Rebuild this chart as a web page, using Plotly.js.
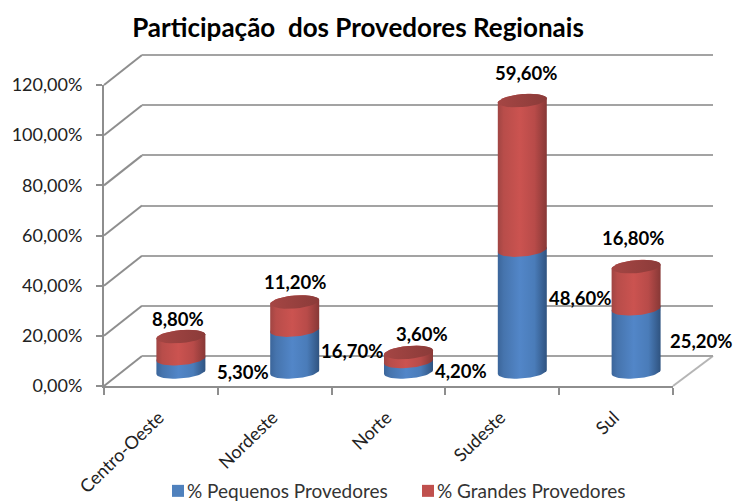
<!DOCTYPE html>
<html><head><meta charset="utf-8">
<script src="https://cdn.plot.ly/plotly-3.0.1.min.js"></script>
<style>html,body{margin:0;padding:0;background:#fff;overflow:hidden}#c{width:733px;height:501px}</style>
</head><body><div id="c"></div>
<script>
const categories = ["Centro-Oeste","Nordeste","Norte","Sudeste","Sul"];
const pequenos = [5.3,16.7,4.2,48.6,25.2];
const grandes = [8.8,11.2,3.6,59.6,16.8];
// label nudges in pixels from each stack segment's top (style only)
const labelShiftPequenos = [[62,-13],[57,-21],[52,-10],[58,-48],[65,-32]];
const labelShiftGrandes = [[-3,18],[0,20],[13,18],[4,28],[-3,29]];

const W=733,H=501;
const dx=v=>v/W, dy=v=>1-v/H;
const catPx=113.8, unitPx=2.508, rx=24.5/catPx, ry=6.5/unitPx, tilt=2/unitPx;
const fmt=v=>v.toFixed(2).replace('.',',')+'%';
const blueScale=[[0,'#3b659a'],[0.12,'#4674ad'],[0.45,'#5286c8'],[0.75,'#4a7cb9'],[1,'#2f5380']];
const redScale=[[0,'#a04543'],[0.12,'#b84d4a'],[0.45,'#cb5350'],[0.75,'#b84b49'],[1,'#873836']];
const capScale=[[0,'#a54644'],[1,'#8b3b39']];
const positions=categories.map((c,i)=>i);

function arc(cx,cy,from,to){
  const xs=[],ys=[];
  for(let i=0;i<=28;i++){const t=from+(to-from)*i/28;
    xs.push(cx+rx*Math.cos(t)); ys.push(cy+ry*Math.sin(t)+tilt*Math.cos(t));}
  return [xs,ys];
}
function body(i,lo,hi,scale){
  const a=arc(i,lo,Math.PI,2*Math.PI), b=arc(i,hi,0,Math.PI);
  return {type:'scatter',mode:'lines',x:a[0].concat(b[0]),y:a[1].concat(b[1]),xaxis:'x3',yaxis:'y3',
    fill:'toself',line:{width:0},fillgradient:{type:'horizontal',colorscale:scale},
    showlegend:false,hoverinfo:'skip',cliponaxis:false};
}
function cap(i,v){
  const a=arc(i,v,0,2*Math.PI);
  return {type:'scatter',mode:'lines',x:a[0],y:a[1],xaxis:'x3',yaxis:'y3',
    fill:'toself',line:{width:0},fillgradient:{type:'horizontal',colorscale:capScale},
    showlegend:false,hoverinfo:'skip',cliponaxis:false};
}
const traces=[
 {type:'bar',name:'% Pequenos Provedores',x:positions,y:pequenos,width:0.4,marker:{color:'#4f81bd'},xaxis:'x3',yaxis:'y3',hoverinfo:'skip'},
 {type:'bar',name:'% Grandes Provedores',x:positions,y:grandes,width:0.4,marker:{color:'#c0504d'},xaxis:'x3',yaxis:'y3',hoverinfo:'skip'},
 {type:'scatter',mode:'none',x:categories,y:pequenos,xaxis:'x',yaxis:'y',showlegend:false,hoverinfo:'skip'},
 {type:'scatter',mode:'none',x:positions,y:pequenos,xaxis:'x2',yaxis:'y2',showlegend:false,hoverinfo:'skip'}
];
categories.forEach((c,i)=>{
  traces.push(body(i,0,pequenos[i],blueScale));
  traces.push(body(i,pequenos[i],pequenos[i]+grandes[i],redScale));
  traces.push(cap(i,pequenos[i]+grandes[i]));
});
const gridCol='#a3a3a3', axisCol='#8e8e8e';
const wallTicks=[0,20,40,60,80,100,120];
const diag=(x,y,ex,ey,col)=>({type:'line',xref:'paper',yref:'paper',x0:dx(x),y0:dy(y),x1:dx(ex),y1:dy(ey),line:{color:col,width:2},layer:'below'});
const shapes=wallTicks.map(v=>{const py=386-v*2.508;return diag(104,py,142,py-30,axisCol);});
shapes.push(diag(673,386,713,356,'#b5b5b5'));
const annos=[];
categories.forEach((c,i)=>{
  annos.push({x:i,y:pequenos[i],xref:'x3',yref:'y3',text:'<b>'+fmt(pequenos[i])+'</b>',showarrow:false,
    xshift:labelShiftPequenos[i][0],yshift:labelShiftPequenos[i][1],font:{family:'Lato',size:18.5,color:'#000'},
    xanchor:'center',yanchor:'middle'});
  annos.push({x:i,y:pequenos[i]+grandes[i],xref:'x3',yref:'y3',text:'<b>'+fmt(grandes[i])+'</b>',showarrow:false,
    xshift:labelShiftGrandes[i][0],yshift:labelShiftGrandes[i][1],font:{family:'Lato',size:18.5,color:'#000'},
    xanchor:'center',yanchor:'middle'});
});
const hidden={showticklabels:false,showline:false,zeroline:false,ticks:''};
const layout={
 width:W,height:H,margin:{l:0,r:0,t:0,b:0,pad:0,autoexpand:false},paper_bgcolor:'#fff',plot_bgcolor:'rgba(0,0,0,0)',
 separators:',.',barmode:'stack',showlegend:true,
 font:{family:'Lato',color:'#222'},
 title:{text:'<b>Participação  dos Provedores Regionais</b>',x:358/W,xanchor:'center',y:dy(28),yanchor:'middle',
   font:{family:'Lato',size:26,color:'#000'}},
 xaxis:{domain:[dx(104),dx(673)],type:'category',categoryorder:'array',categoryarray:categories,range:[-0.5,4.5],
   tickson:'boundaries',ticks:'outside',ticklen:7,tickwidth:2,tickcolor:axisCol,tickangle:-44,ticklabelstandoff:12,ticklabelshift:-2,
   showline:true,linecolor:axisCol,linewidth:2,showgrid:false,zeroline:false,automargin:false,
   tickfont:{family:'Lato',size:18,color:'#222'},anchor:'y'},
 yaxis:{domain:[dy(386),dy(85)],range:[0,120],tick0:0,dtick:20,ticks:'outside',ticklen:6,tickwidth:2,tickcolor:axisCol,ticklabelstandoff:10,
   tickformat:'.2f',ticksuffix:'%',showticksuffix:'all',showline:true,linecolor:axisCol,linewidth:2,showgrid:false,zeroline:false,automargin:false,
   tickfont:{family:'Lato',size:18,color:'#222'},anchor:'x'},
 xaxis2:Object.assign({domain:[dx(142),dx(713)],type:'linear',range:[-0.5,4.5],showgrid:false,anchor:'y2'},hidden),
 yaxis2:Object.assign({domain:[dy(366),dy(45)],range:[-4,124],tick0:0,dtick:20,showgrid:true,gridcolor:gridCol,gridwidth:2,anchor:'x2'},hidden),
 xaxis3:Object.assign({domain:[dx(124),dx(693)],type:'linear',range:[-0.5,4.5],showgrid:false,anchor:'y3'},hidden),
 yaxis3:Object.assign({domain:[dy(382),dy(61)],range:[-4,124],showgrid:false,anchor:'x3'},hidden),
 legend:{orientation:'h',x:dx(147),xanchor:'left',y:dy(472),yanchor:'top',bgcolor:'rgba(0,0,0,0)',
   font:{family:'Lato',size:19,color:'#333'},entrywidthmode:'pixels',entrywidth:205,traceorder:'normal',itemclick:false,itemdoubleclick:false},
 shapes:shapes,annotations:annos
};
Plotly.newPlot('c',traces,layout,{displayModeBar:false,staticPlot:true}).then(gd=>{
  // pull the legend swatches closer to their labels
  gd.querySelectorAll('.legend .legendsymbols').forEach(g=>g.setAttribute('transform','translate(11,0)'));
});
</script></body></html>
